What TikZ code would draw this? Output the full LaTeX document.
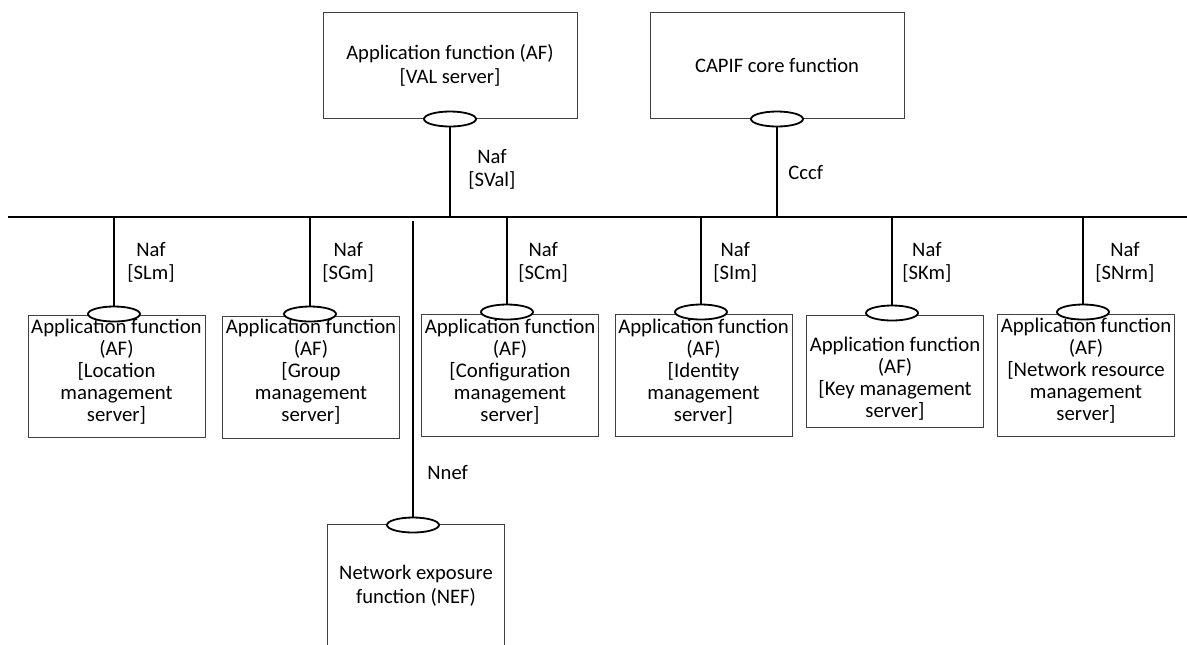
\documentclass[tikz,border=0pt]{standalone}
\usepackage{fontspec}
\setmainfont{Carlito}
\usetikzlibrary{shapes.geometric,positioning}

\begin{document}
\begin{tikzpicture}[
  x=0.5pt,y=-0.5pt,
  box/.style={draw=black!75,line width=0.5pt,minimum width=88.5pt,
              minimum height=61pt,inner sep=0pt},
  topbox/.style={box,minimum width=127pt,minimum height=53pt,align=center,
                 font=\fontsize{10.3pt}{12pt}\selectfont},
  txt/.style={align=center,font=\fontsize{10.4pt}{11pt}\selectfont,inner sep=0pt},
  lbl/.style={align=center,anchor=west,inner sep=0pt,
              font=\fontsize{10.3pt}{11.5pt}\selectfont},
  port/.style={ellipse,draw,fill=white,line width=0.9pt,minimum width=26pt,
               minimum height=7.5pt,inner sep=0pt},
  conn/.style={line width=1pt},
  bus/.style={line width=1.2pt}
]
\useasboundingbox (0,0) rectangle (1187,644);
\clip (0,0) rectangle (1187,644);

% top functions
\node[topbox] (val) at (450,65) {Application function (AF)\\{}[VAL server]};
\node[topbox] (capif) at (777,65) {CAPIF core function};

% bus
\coordinate (busL) at (8,217);
\coordinate (busR) at (1187,217);
\draw[bus] (busL) -- (busR);

% application functions below the bus
\node[box] (loc) at (116.5,376.5) {};
\node[txt] (loct) at (116.5,372) {Application function\\(AF)\\{}[Location\\management\\server]};
\node[box] (grp) at (311,377) {};
\node[txt] (grpt) at (311,372) {Application function\\(AF)\\{}[Group\\management\\server]};
\node[box] (cfg) at (510,375.5) {};
\node[txt] (cfgt) at (510,372) {Application function\\(AF)\\{}[Configuration\\management\\server]};
\node[box] (idm) at (703.5,375.5) {};
\node[txt] (idmt) at (703.5,372) {Application function\\(AF)\\{}[Identity\\management\\server]};
\node[box,minimum height=56pt] (key) at (895,371) {};
\node[txt] (keyt) at (895,379) {Application function\\(AF)\\{}[Key management\\server]};
\node[box] (nrm) at (1086,375.5) {};
\node[txt] (nrmt) at (1086,371) {Application function\\(AF)\\{}[Network resource\\management\\server]};

% network exposure function
\node[box,minimum height=64pt] (nef) at (416,588) {};
\node[txt,font=\fontsize{10.3pt}{12pt}\selectfont] (neft) at (416,586) {Network exposure\\function (NEF)};

% ports
\node[port] (pval) at (450,119) {};
\node[port] (pcapif) at (777,119) {};
\node[port] (ploc) at (114,314) {};
\node[port] (pgrp) at (310,314) {};
\node[port] (pcfg) at (507,312) {};
\node[port] (pidm) at (701,312) {};
\node[port] (pkey) at (892,313) {};
\node[port] (pnrm) at (1083,312) {};
\node[port] (pnef) at (413,525) {};

% reference points
\draw[conn] (pval.south) -- (pval.south |- busL);
\draw[conn] (pcapif.south) -- (pcapif.south |- busL);
\draw[conn] (ploc.north) -- (ploc.north |- busL);
\draw[conn] (pgrp.north) -- (pgrp.north |- busL);
\draw[conn] (pcfg.north) -- (pcfg.north |- busL);
\draw[conn] (pidm.north) -- (pidm.north |- busL);
\draw[conn] (pkey.north) -- (pkey.north |- busL);
\draw[conn] (pnrm.north) -- (pnrm.north |- busL);
\coordinate (nefend) at (413,221);
\draw[conn] (pnef.north) -- (nefend);

% labels
\node[lbl] (lval) at (468,169) {Naf\\{}[SVal]};
\node[lbl] (lcapif) at (788,173) {Cccf};
\node[lbl] (lloc) at (127,262) {Naf\\{}[SLm]};
\node[lbl] (lgrp) at (322,262) {Naf\\{}[SGm]};
\node[lbl] (lcfg) at (518,262) {Naf\\{}[SCm]};
\node[lbl] (lidm) at (713,262) {Naf\\{}[SIm]};
\node[lbl] (lkey) at (902,262) {Naf\\{}[SKm]};
\node[lbl] (lnrm) at (1095,262) {Naf\\{}[SNrm]};
\node[lbl] (lnef) at (427,472) {Nnef};
\end{tikzpicture}
\end{document}
